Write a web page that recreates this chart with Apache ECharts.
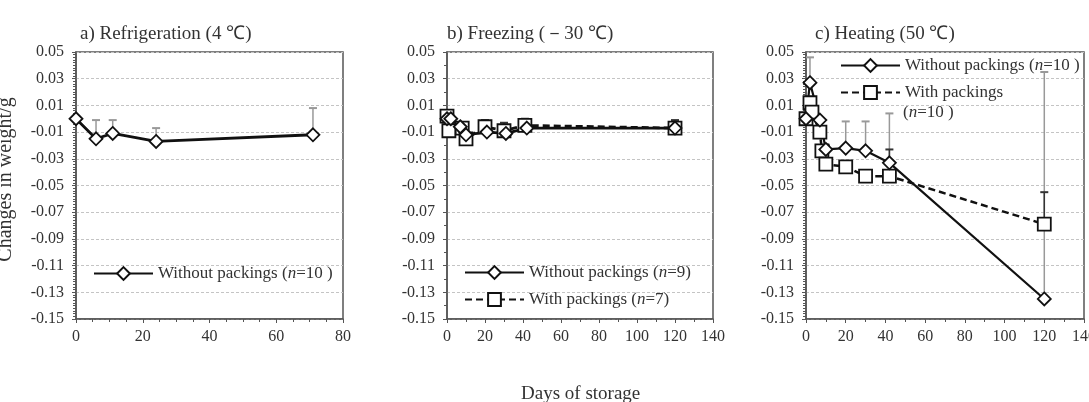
<!DOCTYPE html>
<html><head><meta charset="utf-8">
<script src="https://cdn.jsdelivr.net/npm/echarts@6/dist/echarts.min.js"></script>
<style>html,body{margin:0;padding:0;background:#fff}#c{width:1089px;height:402px}</style>
</head><body><div id="c"></div>
<script>
const FONT = '"Liberation Serif","Times New Roman",serif';

// ---- Panel a: Refrigeration (4 ℃)
const daysA = [0, 6, 11, 24, 71];
const weightA = [0.000, -0.015, -0.011, -0.017, -0.012];
const errUpA = [null, -0.001, -0.001, -0.007, 0.008];

// ---- Panel b: Freezing (-30 ℃)
const daysBWithout = [0, 2, 7, 10, 21, 31, 42, 120];
const weightBWithout = [0.000, 0.000, -0.006, -0.012, -0.010, -0.011, -0.007, -0.007];
const daysBWith = [0, 1, 8, 10, 20, 30, 41, 120];
const weightBWith = [0.002, -0.009, -0.007, -0.015, -0.006, -0.009, -0.005, -0.007];
const errUpBWith = [0.005, null, null, null, -0.001, -0.003, 0.000, -0.001];

// ---- Panel c: Heating (50 ℃)
const daysCWithout = [0, 2, 7, 10, 20, 30, 42, 120];
const weightCWithout = [0.000, 0.027, -0.001, -0.023, -0.022, -0.024, -0.033, -0.135];
const errUpCWithout = [null, 0.046, null, null, -0.002, -0.002, 0.004, 0.035];
const daysCWith = [0, 2, 3, 7, 8, 10, 20, 30, 42, 120];
const weightCWith = [0.000, 0.012, 0.005, -0.010, -0.024, -0.034, -0.036, -0.043, -0.043, -0.079];
const errUpCWith = [null, null, null, -0.006, null, -0.020, null, null, -0.023, -0.055];

// ---- Axis ticks / labels
const yMin = -0.15, yMax = 0.05, yStep = 0.02;
const xMaxA = 80, xMaxBC = 140, xStep = 20;
const titles = ['a) Refrigeration (4 \u2103)', 'b) Freezing (\uFF0D30 \u2103)', 'c) Heating (50 \u2103)'];
const yAxisTitle = 'Changes in weight/g';
const xAxisTitle = 'Days of storage';
const legendText = {
  aWithout: ['Without packings (', 'n', '=10 )'],
  bWithout: ['Without packings (', 'n', '=9)'],
  bWith: ['With packings (', 'n', '=7)'],
  cWithout: ['Without packings (', 'n', '=10 )'],
  cWith: ['With packings', '', '']
};
const cWithSecondLine = ['(', 'n', '=10 )'];

const TXT = '#333';
const rich = {
  t: {fontFamily: FONT, fontSize: 17, color: TXT},
  i: {fontFamily: FONT, fontSize: 17, color: TXT, fontStyle: 'italic'}
};
function richFmt(p) { return '{t|' + p[0] + '}' + (p[1] ? '{i|' + p[1] + '}' : '') + (p[2] ? '{t|' + p[2] + '}' : ''); }

function zip(xs, ys) { return xs.map((x, i) => [x, ys[i]]); }
function errData(xs, ys, ups) {
  const out = [];
  xs.forEach((x, i) => { if (ups[i] != null) out.push([x, ys[i], ups[i]]); });
  return out;
}

const gridBase = {show: true, borderColor: '#555', borderWidth: 1.5, backgroundColor: '#fff', containLabel: false, outerBoundsMode: 'none'};
const grids = [
  Object.assign({left: 76, top: 52, width: 267, height: 267}, gridBase),
  Object.assign({left: 447, top: 52, width: 266, height: 267}, gridBase),
  Object.assign({left: 806, top: 52, width: 278, height: 267}, gridBase)
];

function xAxisCfg(gi, max, minorSplit) {
  return {
    type: 'value', gridIndex: gi, min: 0, max: max, interval: xStep,
    axisLine: {show: true, onZero: false, lineStyle: {color: '#555', width: 1.5}},
    axisTick: {show: true, inside: false, length: 4, lineStyle: {color: '#555'}},
    minorTick: {show: true, splitNumber: minorSplit, length: 3, lineStyle: {color: '#555'}},
    splitLine: {show: false},
    axisLabel: {fontFamily: FONT, fontSize: 16, color: TXT, margin: 10}
  };
}
function yAxisCfg(gi, minorSplit, name) {
  const c = {
    type: 'value', gridIndex: gi, min: yMin, max: yMax, interval: yStep,
    axisLine: {show: true, onZero: false, lineStyle: {color: '#555', width: 1.5}},
    axisTick: {show: true, inside: false, length: 4, lineStyle: {color: '#555'}},
    minorTick: {show: true, splitNumber: minorSplit, length: 3, lineStyle: {color: '#555'}},
    splitLine: {show: true, lineStyle: {color: '#c4c4c4', type: [3, 2], width: 1}},
    axisLabel: {fontFamily: FONT, fontSize: 16, color: TXT, margin: 12, formatter: v => v.toFixed(2)}
  };
  if (name) {
    c.name = name; c.nameLocation = 'middle'; c.nameGap = 60; c.nameRotate = 90;
    c.nameTextStyle = {fontFamily: FONT, fontSize: 20, color: TXT, padding: [0, 0, 0, 12]};
  }
  return c;
}

function lineSeries(name, gi, xs, ys, sym, dashed, width) {
  return {
    name: name, type: 'line', xAxisIndex: gi, yAxisIndex: gi, data: zip(xs, ys),
    symbol: sym, symbolSize: sym === 'diamond' ? [13, 13] : 13, showSymbol: true,
    lineStyle: {color: '#111', width: width, type: dashed ? [7, 4] : 'solid'},
    itemStyle: {color: '#fff', borderColor: '#111', borderWidth: 1.8},
    emphasis: {disabled: true}, z: 3, animation: false
  };
}
function errSeries(gi, data, color) {
  return {
    type: 'custom', xAxisIndex: gi, yAxisIndex: gi, data: data, z: 1, silent: true,
    encode: {x: 0, y: 1}, animation: false,
    renderItem: function (params, api) {
      const x = api.value(0), y = api.value(1), up = api.value(2);
      const p0 = api.coord([x, y]), p1 = api.coord([x, up]);
      const w = 4;
      return {type: 'group', children: [
        {type: 'line', shape: {x1: p0[0], y1: p0[1], x2: p1[0], y2: p1[1]}, style: {stroke: color, lineWidth: 1.5}},
        {type: 'line', shape: {x1: p1[0] - w, y1: p1[1], x2: p1[0] + w, y2: p1[1]}, style: {stroke: color, lineWidth: 2}}
      ]};
    }
  };
}

function legendCfg(name, left, top) {
  return {
    data: [name], left: left, top: top, orient: 'vertical', padding: 0,
    itemWidth: 59, itemHeight: 16, selectedMode: false,
    formatter: n => richFmt(legendText[n]),
    textStyle: {fontFamily: FONT, fontSize: 17, color: TXT, rich: rich}
  };
}

const titleStyle = {fontFamily: FONT, fontSize: 19, fontWeight: 'normal', color: TXT};
const option = {
  animation: false,
  backgroundColor: '#fff',
  title: [
    {text: titles[0], left: 80, top: 25, textStyle: titleStyle, padding: 0},
    {text: titles[1], left: 447, top: 25, textStyle: titleStyle, padding: 0},
    {text: titles[2], left: 815, top: 25, textStyle: titleStyle, padding: 0},
    {text: xAxisTitle, left: 521, top: 385, textStyle: titleStyle, padding: 0}
  ],
  grid: grids,
  xAxis: [xAxisCfg(0, xMaxA, 4), xAxisCfg(1, xMaxBC, 2), xAxisCfg(2, xMaxBC, 2)],
  yAxis: [yAxisCfg(0, 10, yAxisTitle), yAxisCfg(1, 2), yAxisCfg(2, 10)],
  legend: [
    legendCfg('aWithout', 93, 265),
    legendCfg('bWithout', 464, 264),
    legendCfg('bWith', 464, 291),
    legendCfg('cWithout', 840, 57),
    legendCfg('cWith', 840, 84)
  ],
  graphic: [
    {type: 'text', left: 903, top: 104, style: {text: richFmt(cWithSecondLine), rich: rich, font: '17px ' + FONT, fill: TXT}}
  ],
  series: [
    errSeries(0, errData(daysA, weightA, errUpA), '#999'),
    lineSeries('aWithout', 0, daysA, weightA, 'diamond', false, 2.8),

    errSeries(1, errData(daysBWith, weightBWith, errUpBWith), '#333'),
    lineSeries('bWith', 1, daysBWith, weightBWith, 'rect', true, 2.8),
    lineSeries('bWithout', 1, daysBWithout, weightBWithout, 'diamond', false, 2.8),

    errSeries(2, errData(daysCWithout, weightCWithout, errUpCWithout), '#999'),
    errSeries(2, errData(daysCWith, weightCWith, errUpCWith), '#333'),
    lineSeries('cWith', 2, daysCWith, weightCWith, 'rect', true, 2.5),
    lineSeries('cWithout', 2, daysCWithout, weightCWithout, 'diamond', false, 2.2)
  ]
};

const chart = echarts.init(document.getElementById('c'), null, {renderer: 'canvas'});
chart.setOption(option);
</script>
</body></html>
